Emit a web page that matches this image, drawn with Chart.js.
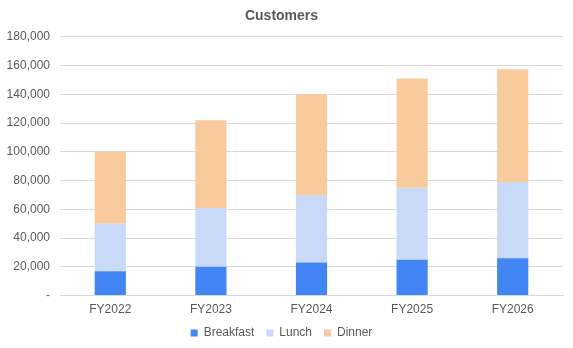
<!DOCTYPE html>
<html>
<head>
<meta charset="utf-8">
<script src="https://cdn.jsdelivr.net/npm/chart.js@4"></script>
<style>
  html, body { margin: 0; padding: 0; background: #fff; }
  #wrap { width: 573px; height: 348px; }
</style>
</head>
<body>
<div id="wrap"><canvas id="customersChart"></canvas></div>
<script>
// data
var years = ["FY2022", "FY2023", "FY2024", "FY2025", "FY2026"];
var breakfast = [17000, 20000, 23000, 25000, 26000];
var lunch = [33000, 41000, 47000, 50000, 53000];
var dinner = [50000, 61000, 70000, 76000, 78500];
var yTicks = [0, 20000, 40000, 60000, 80000, 100000, 120000, 140000, 160000, 180000];

var textGrey = "#595959";
Chart.defaults.font.family = "'Liberation Sans', Arial, sans-serif";
Chart.defaults.font.size = 12;
Chart.defaults.color = textGrey;

var canvas = document.getElementById("customersChart");
var myChart = new Chart(canvas, {
    type: "bar",
    data: {
        labels: years,
        datasets: [
            { label: "Breakfast", data: breakfast, backgroundColor: "#4285F4" },
            { label: "Lunch", data: lunch, backgroundColor: "#C9DAF8" },
            { label: "Dinner", data: dinner, backgroundColor: "#F9CB9C" }
        ]
    },
    options: {
        responsive: true,
        maintainAspectRatio: false,
        animation: false,
        datasets: {
            bar: { barPercentage: 0.31, categoryPercentage: 1 }
        },
        layout: { padding: { left: 0, right: 10, top: 0, bottom: -1 } },
        scales: {
            x: {
                stacked: true,
                grid: { display: false, drawTicks: false },
                border: { display: true, color: "#d9d9d9" },
                ticks: { padding: 7, color: textGrey },
                // labels stay put, the legend just sits closer
                afterFit: function (scale) { scale.height -= 9; }
            },
            y: {
                stacked: true,
                min: 0,
                max: 180000,
                afterBuildTicks: function (scale) {
                    scale.ticks = yTicks.map(function (v) { return { value: v }; });
                },
                afterFit: function (scale) { scale.width = 60; },
                grid: { color: "#d9d9d9", drawTicks: false },
                border: { display: false },
                ticks: {
                    padding: 10,
                    color: textGrey,
                    callback: function (v) {
                        return v === 0 ? "-" : v.toLocaleString("en-US");
                    }
                }
            }
        },
        plugins: {
            title: {
                display: true,
                text: "Customers",
                color: textGrey,
                font: { size: 14, weight: "bold" },
                padding: { top: 8, bottom: 12 }
            },
            legend: {
                position: "bottom",
                labels: {
                    boxWidth: 7,
                    boxHeight: 7,
                    padding: 12,
                    color: textGrey,
                    font: { size: 12 }
                }
            },
            tooltip: { enabled: false }
        }
    }
});
</script>
</body>
</html>
